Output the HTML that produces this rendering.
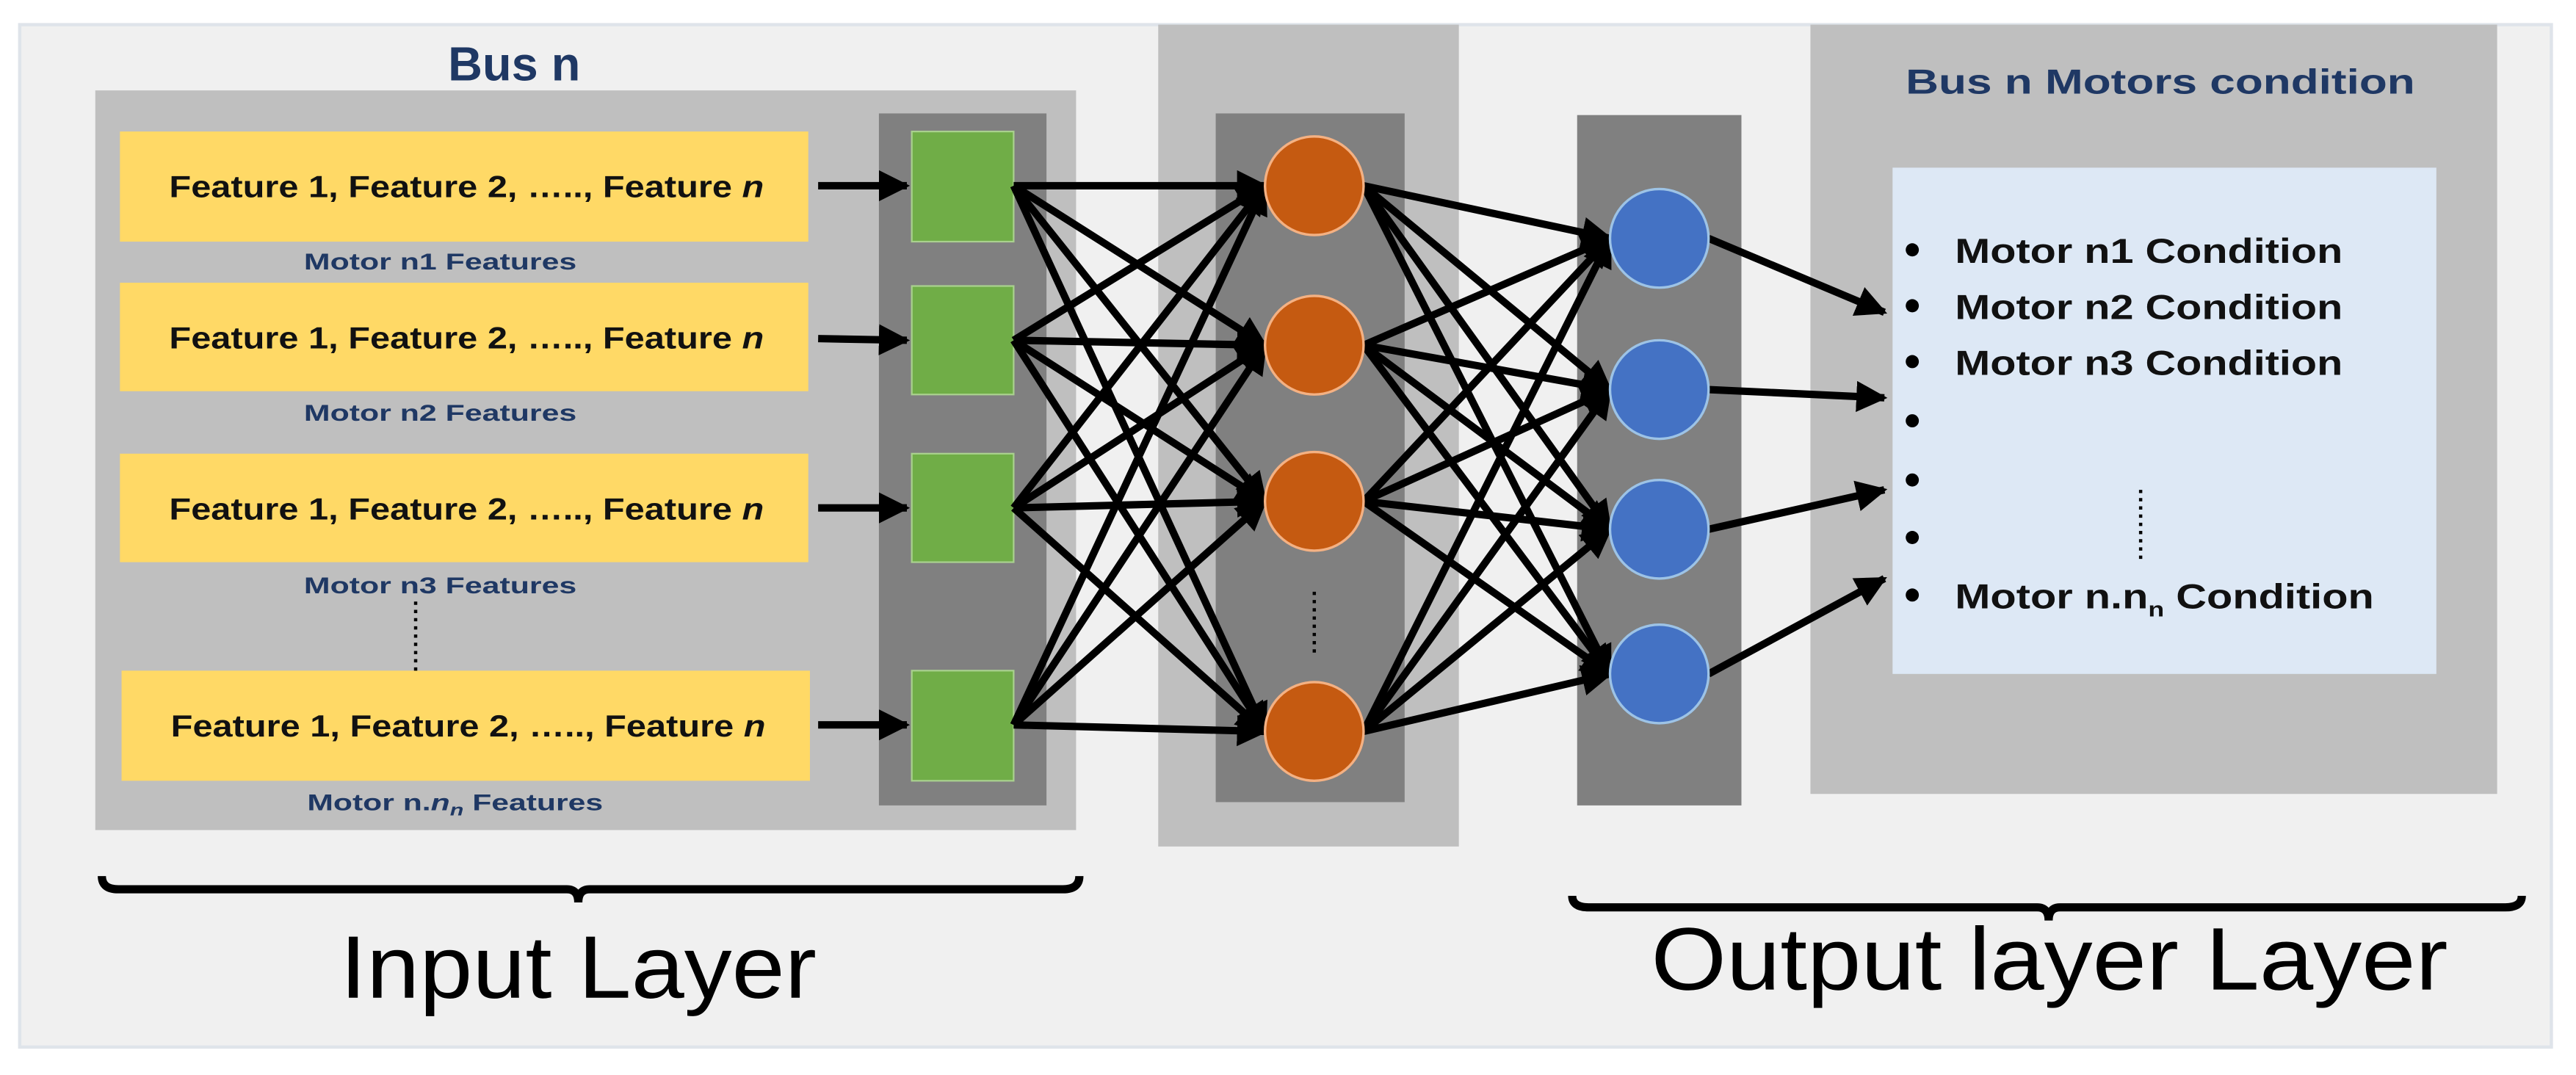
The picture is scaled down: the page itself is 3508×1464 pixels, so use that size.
<!DOCTYPE html>
<html><head><meta charset="utf-8">
<style>
html,body{margin:0;padding:0;background:#fff;}
svg{display:block;}
text{font-family:"Liberation Sans",sans-serif;}
</style></head>
<body>
<svg width="3508" height="1464" viewBox="0 0 1568 654" preserveAspectRatio="none" xmlns="http://www.w3.org/2000/svg">
<defs>
<marker id="ah" viewBox="0 0 10 10" refX="9" refY="5" markerWidth="4.2" markerHeight="4.2" orient="auto" markerUnits="strokeWidth">
<path d="M0,0 L10,5 L0,10 z" fill="#000"/>
</marker>
</defs>
<rect x="0" y="0" width="1568" height="654" fill="#fff"/>
<rect x="12" y="15" width="1541" height="622" fill="#f0f0f0" stroke="#dfe4ea" stroke-width="2"/>
<rect x="58" y="55" width="597" height="450" fill="#bfbfbf"/>
<rect x="705" y="15" width="183" height="500" fill="#bfbfbf"/>
<rect x="1102" y="15" width="418" height="468" fill="#bfbfbf"/>
<rect x="535" y="69" width="102" height="421" fill="#808080"/>
<rect x="740" y="69" width="115" height="419" fill="#808080"/>
<rect x="960" y="70" width="100" height="420" fill="#808080"/>
<text x="313" y="49" font-size="29" font-weight="bold" fill="#1f3864" text-anchor="middle">Bus n</text>
<g fill="#ffd966">
<rect x="73" y="80" width="419" height="67"/>
<rect x="73" y="172" width="419" height="66"/>
<rect x="73" y="276" width="419" height="66"/>
<rect x="74" y="408" width="419" height="67"/>
</g>
<g font-size="18.5" font-weight="bold" fill="#111">
<text x="103" y="120" textLength="362" lengthAdjust="spacingAndGlyphs">Feature 1, Feature 2, ….., Feature <tspan font-style="italic">n</tspan></text>
<text x="103" y="212" textLength="362" lengthAdjust="spacingAndGlyphs">Feature 1, Feature 2, ….., Feature <tspan font-style="italic">n</tspan></text>
<text x="103" y="316" textLength="362" lengthAdjust="spacingAndGlyphs">Feature 1, Feature 2, ….., Feature <tspan font-style="italic">n</tspan></text>
<text x="104" y="448" textLength="362" lengthAdjust="spacingAndGlyphs">Feature 1, Feature 2, ….., Feature <tspan font-style="italic">n</tspan></text>
</g>
<g font-size="14" font-weight="bold" fill="#1f3864">
<text x="185" y="164" textLength="166" lengthAdjust="spacingAndGlyphs">Motor n1 Features</text>
<text x="185" y="256" textLength="166" lengthAdjust="spacingAndGlyphs">Motor n2 Features</text>
<text x="185" y="361" textLength="166" lengthAdjust="spacingAndGlyphs">Motor n3 Features</text>
<text x="187" y="493" textLength="180" lengthAdjust="spacingAndGlyphs">Motor n.<tspan font-style="italic">n</tspan><tspan font-style="italic" font-size="10" dy="3">n</tspan><tspan dy="-3"> Features</tspan></text>
</g>
<line x1="253" y1="366" x2="253" y2="408" stroke="#000" stroke-width="2" stroke-dasharray="2,3"/>
<g fill="#70ad47" stroke="#a9d18e" stroke-width="1">
<rect x="555" y="80" width="62" height="67"/>
<rect x="555" y="174" width="62" height="66"/>
<rect x="555" y="276" width="62" height="66"/>
<rect x="555" y="408" width="62" height="67"/>
</g>
<g stroke="#000" stroke-width="4.5" marker-end="url(#ah)" fill="none">
<line x1="498" y1="113" x2="552" y2="113"/>
<line x1="498" y1="206" x2="552" y2="207"/>
<line x1="498" y1="309" x2="552" y2="309"/>
<line x1="498" y1="441" x2="552" y2="441"/>
</g>
<g stroke="#000" stroke-width="4.5" marker-end="url(#ah)" fill="none">
<line x1="617" y1="113" x2="770" y2="113"/><line x1="617" y1="113" x2="770" y2="210"/><line x1="617" y1="113" x2="770" y2="305"/><line x1="617" y1="113" x2="770" y2="445"/>
<line x1="617" y1="207" x2="770" y2="113"/><line x1="617" y1="207" x2="770" y2="210"/><line x1="617" y1="207" x2="770" y2="305"/><line x1="617" y1="207" x2="770" y2="445"/>
<line x1="617" y1="309" x2="770" y2="113"/><line x1="617" y1="309" x2="770" y2="210"/><line x1="617" y1="309" x2="770" y2="305"/><line x1="617" y1="309" x2="770" y2="445"/>
<line x1="617" y1="441" x2="770" y2="113"/><line x1="617" y1="441" x2="770" y2="210"/><line x1="617" y1="441" x2="770" y2="305"/><line x1="617" y1="441" x2="770" y2="445"/>
<line x1="830" y1="113" x2="980" y2="145"/><line x1="830" y1="113" x2="980" y2="237"/><line x1="830" y1="113" x2="980" y2="322"/><line x1="830" y1="113" x2="980" y2="410"/>
<line x1="830" y1="210" x2="980" y2="145"/><line x1="830" y1="210" x2="980" y2="237"/><line x1="830" y1="210" x2="980" y2="322"/><line x1="830" y1="210" x2="980" y2="410"/>
<line x1="830" y1="305" x2="980" y2="145"/><line x1="830" y1="305" x2="980" y2="237"/><line x1="830" y1="305" x2="980" y2="322"/><line x1="830" y1="305" x2="980" y2="410"/>
<line x1="830" y1="445" x2="980" y2="145"/><line x1="830" y1="445" x2="980" y2="237"/><line x1="830" y1="445" x2="980" y2="322"/><line x1="830" y1="445" x2="980" y2="410"/>
<line x1="1040" y1="145" x2="1147" y2="190"/>
<line x1="1040" y1="237" x2="1147" y2="242"/>
<line x1="1040" y1="322" x2="1147" y2="298"/>
<line x1="1040" y1="410" x2="1147" y2="352"/>
</g>
<g fill="#c55a11" stroke="#f4b183" stroke-width="1.5">
<circle cx="800" cy="113" r="30"/><circle cx="800" cy="210" r="30"/><circle cx="800" cy="305" r="30"/><circle cx="800" cy="445" r="30"/>
</g>
<line x1="800" y1="360" x2="800" y2="400" stroke="#000" stroke-width="2" stroke-dasharray="2,3"/>
<g fill="#4472c4" stroke="#9dc3e6" stroke-width="1.5">
<circle cx="1010" cy="145" r="30"/><circle cx="1010" cy="237" r="30"/><circle cx="1010" cy="322" r="30"/><circle cx="1010" cy="410" r="30"/>
</g>
<text x="1160" y="57" font-size="21" font-weight="bold" fill="#1f3864" textLength="310" lengthAdjust="spacingAndGlyphs">Bus n Motors condition</text>
<rect x="1152" y="102" width="331" height="308" fill="#dde8f5"/>
<g fill="#000">
<circle cx="1164" cy="152" r="4"/><circle cx="1164" cy="186" r="4"/><circle cx="1164" cy="220" r="4"/><circle cx="1164" cy="256" r="4"/><circle cx="1164" cy="292" r="4"/><circle cx="1164" cy="327" r="4"/><circle cx="1164" cy="362" r="4"/>
</g>
<g font-size="21" font-weight="bold" fill="#111">
<text x="1190" y="160" textLength="236" lengthAdjust="spacingAndGlyphs">Motor n1 Condition</text>
<text x="1190" y="194" textLength="236" lengthAdjust="spacingAndGlyphs">Motor n2 Condition</text>
<text x="1190" y="228" textLength="236" lengthAdjust="spacingAndGlyphs">Motor n3 Condition</text>
<text x="1190" y="370" textLength="255" lengthAdjust="spacingAndGlyphs">Motor n.n<tspan font-size="13" dy="5">n</tspan><tspan dy="-5"> Condition</tspan></text>
</g>
<line x1="1303" y1="298" x2="1303" y2="340" stroke="#000" stroke-width="2" stroke-dasharray="2,3"/>
<path d="M62,533 Q62,541 72,541 L345,541 Q352,541 352,549 Q352,541 359,541 L647,541 Q657,541 657,533" fill="none" stroke="#000" stroke-width="5"/>
<path d="M957,545 Q957,552 967,552 L1240,552 Q1247,552 1247,560 Q1247,552 1254,552 L1525,552 Q1535,552 1535,545" fill="none" stroke="#000" stroke-width="5"/>
<text x="207" y="607" font-size="54" fill="#000" textLength="290" lengthAdjust="spacingAndGlyphs">Input Layer</text>
<text x="1005" y="602" font-size="54" fill="#000" textLength="485" lengthAdjust="spacingAndGlyphs">Output layer Layer</text>
</svg>
</body></html>
